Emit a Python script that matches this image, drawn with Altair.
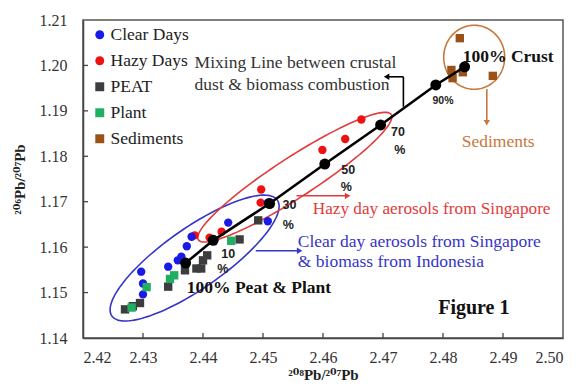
import altair as alt
import pandas as pd
import numpy as np

# ---------------- data ----------------
clear_x = [2.4297, 2.4300, 2.4300, 2.4342, 2.4358, 2.4364, 2.4373, 2.4381, 2.4442, 2.4508, 2.4508]
clear_y = [1.1546, 1.1520, 1.1496, 1.1557, 1.1571, 1.1579, 1.1602, 1.1623, 1.1654, 1.1657, 1.1698]
hazy_x = [2.4386, 2.4411, 2.4431, 2.4496, 2.4497, 2.4599, 2.4637, 2.4664]
hazy_y = [1.1626, 1.1621, 1.1634, 1.1698, 1.1727, 1.1814, 1.1838, 1.1881]
peat_x = [2.4270, 2.4283, 2.4295, 2.4342, 2.4370, 2.4389, 2.4397, 2.4400, 2.4407, 2.4461, 2.4492]
peat_y = [1.1463, 1.1470, 1.1477, 1.1513, 1.1549, 1.1553, 1.1553, 1.1571, 1.1582, 1.1617, 1.1659]
plant_x = [2.4281, 2.4306, 2.4345, 2.4352, 2.4447]
plant_y = [1.1467, 1.1512, 1.1530, 1.1538, 1.1614]
sed_x = [2.4828, 2.4814, 2.4816, 2.4833, 2.4883]
sed_y = [1.2060, 1.1990, 1.1972, 1.1985, 1.1977]
mix_x = [2.4371, 2.4417, 2.4511, 2.4603, 2.4696, 2.4788, 2.4836]
mix_y = [1.1565, 1.1615, 1.1696, 1.1783, 1.1869, 1.1957, 1.1997]

series_names = ["Clear Days", "Hazy Days", "PEAT", "Plant", "Sediments"]
series_colors = ["#1a1ae6", "#ee1111", "#3d3d3d", "#1fae62", "#9a5218"]
series_shapes = ["circle", "circle", "square", "square", "square"]

x_ticks = [2.42, 2.43, 2.44, 2.45, 2.46, 2.47, 2.48, 2.49, 2.50]
y_ticks = [1.14, 1.15, 1.16, 1.17, 1.18, 1.19, 1.20, 1.21]

SERIF = "'Liberation Serif', 'Times New Roman', Times, 'DejaVu Serif', serif"
SANS = "'Liberation Sans', Arial, sans-serif"

W, H = 480, 318
XD = [2.42, 2.50]
YD = [1.14, 1.21]
SX = W / (XD[1] - XD[0])
SY = H / (YD[1] - YD[0])

xs = alt.Scale(domain=XD, nice=False, zero=False)
ys = alt.Scale(domain=YD, nice=False, zero=False)

# ---------------- scatter ----------------
rows = []
for name, xx, yy in [("Hazy Days", hazy_x, hazy_y), ("Clear Days", clear_x, clear_y),
                     ("PEAT", peat_x, peat_y), ("Plant", plant_x, plant_y),
                     ("Sediments", sed_x, sed_y)]:
    for a, b in zip(xx, yy):
        rows.append({"series": name, "x": a, "y": b})
scat_df = pd.DataFrame(rows)

scatter = alt.Chart(scat_df).mark_point(filled=True, opacity=1, size=70).encode(
    x=alt.X("x:Q", scale=xs, axis=alt.Axis(values=x_ticks, format=".2f",
                                           title="²⁰⁸Pb/²⁰⁷Pb", labelPadding=11,
                                           titlePadding=2)),
    y=alt.Y("y:Q", scale=ys, axis=alt.Axis(values=y_ticks, format=".2f",
                                           title="²⁰⁶Pb/²⁰⁷Pb", labelPadding=16,
                                           titlePadding=12)),
    color=alt.Color("series:N", scale=alt.Scale(domain=series_names, range=series_colors),
                    legend=alt.Legend(title=None, orient="none", legendX=8, legendY=6,
                                      labelFont=SERIF, labelFontSize=17.5,
                                      labelColor="#222", symbolSize=80, rowPadding=7,
                                      labelOffset=2, symbolStrokeWidth=0)),
    shape=alt.Shape("series:N", scale=alt.Scale(domain=series_names, range=series_shapes),
                    legend=None),
)

# ---------------- ellipses ----------------
def ellipse(cx, cy, a, b, ang):
    t = np.linspace(0, 2 * np.pi, 145)
    th = np.radians(ang)
    px = a * np.cos(t) * np.cos(th) - b * np.sin(t) * np.sin(th)
    py = a * np.cos(t) * np.sin(th) + b * np.sin(t) * np.cos(th)
    return pd.DataFrame({"x": cx + px / SX, "y": cy + py / SY, "o": np.arange(len(t))})

def ell_layer(df, color):
    return alt.Chart(df).mark_line(color=color, strokeWidth=1.6).encode(
        x=alt.X("x:Q", scale=xs), y=alt.Y("y:Q", scale=ys), order="o:Q")

blue_ell = ell_layer(ellipse(2.4386, 1.1576, 101, 30, 35), "#3535c8")
red_ell = ell_layer(ellipse(2.4553, 1.1754, 115, 20, 33), "#e23a3a")
orange_ell = ell_layer(ellipse(2.4852, 1.2018, 30.5, 32, 0), "#c8773a")

# ---------------- mixing line ----------------
mix_df = pd.DataFrame({"x": mix_x, "y": mix_y, "o": range(len(mix_x))})
mix_line = alt.Chart(mix_df).mark_line(color="black", strokeWidth=2.6).encode(
    x=alt.X("x:Q", scale=xs), y=alt.Y("y:Q", scale=ys), order="o:Q")
mix_pts = alt.Chart(mix_df).mark_circle(color="black", size=120, opacity=1).encode(
    x=alt.X("x:Q", scale=xs), y=alt.Y("y:Q", scale=ys))

# ---------------- arrows ----------------
seg_x = [2.4873, 2.4734, 2.4708, 2.4556, 2.4488]
seg_x2 = [2.4873, 2.4734, 2.4734, 2.4638, 2.4558]
seg_y = [1.1948, 1.1975, 1.1975, 1.1713, 1.1592]
seg_y2 = [1.1878, 1.1909, 1.1975, 1.1713, 1.1592]
seg_col = ["#c8773a", "black", "black", "#e23a3a", "#3535c8"]
seg_df = pd.DataFrame({"x": seg_x, "x2": seg_x2, "y": seg_y, "y2": seg_y2, "c": seg_col})
segs = alt.Chart(seg_df).mark_rule(strokeWidth=1.6).encode(
    x=alt.X("x:Q", scale=xs), x2="x2:Q", y=alt.Y("y:Q", scale=ys), y2="y2:Q",
    color=alt.Color("c:N", scale=None))

head_x = [2.4873, 2.4706, 2.4641, 2.4561]
head_y = [1.1874, 1.1975, 1.1713, 1.1592]
head_shape = ["triangle-down", "triangle-left", "triangle-right", "triangle-right"]
head_df = pd.DataFrame({"x": head_x, "y": head_y, "s": head_shape, "c": seg_col[0:2] + seg_col[3:]})
heads = alt.Chart(head_df).mark_point(filled=True, opacity=1, size=40).encode(
    x=alt.X("x:Q", scale=xs), y=alt.Y("y:Q", scale=ys),
    shape=alt.Shape("s:N", scale=None), color=alt.Color("c:N", scale=None))

# ---------------- axis ticks (inward) ----------------
xt_df = pd.DataFrame({"x": x_ticks[1:-1], "y": YD[0], "y2": YD[0] + 5 / SY})
yt_df = pd.DataFrame({"y": y_ticks[1:-1], "x": XD[0], "x2": XD[0] + 5 / SX})
xt = alt.Chart(xt_df).mark_rule(color="#444", strokeWidth=1.3).encode(
    x=alt.X("x:Q", scale=xs), y=alt.Y("y:Q", scale=ys), y2="y2:Q")
yt = alt.Chart(yt_df).mark_rule(color="#444", strokeWidth=1.3).encode(
    x=alt.X("x:Q", scale=xs), x2="x2:Q", y=alt.Y("y:Q", scale=ys))

# ---------------- text ----------------
def text_layer(labels, tx, ty, color, size, weight="normal", font=SERIF, align="left"):
    df = pd.DataFrame({"t": labels, "x": tx, "y": ty})
    return alt.Chart(df).mark_text(color=color, fontSize=size, fontWeight=weight, font=font,
                                   align=align, baseline="middle").encode(
        x=alt.X("x:Q", scale=xs), y=alt.Y("y:Q", scale=ys), text="t:N")

mix_text = text_layer(["Mixing Line between crustal", "dust  & biomass combustion"],
                      [2.4386, 2.4386], [1.2005, 1.1957], "#333", 17.5)
bold_text = text_layer(["100% Crust", "100% Peat & Plant"],
                       [2.4833, 2.4373], [1.2019, 1.1511], "#111", 17.5, "bold")
fig_text = text_layer(["Figure 1"], [2.4792], [1.1465], "#111", 20, "bold")
sed_text = text_layer(["Sediments"], [2.4892], [1.1832], "#c8773a", 17.5, align="center")
hazy_text = text_layer(["Hazy day aerosols from Singapore"], [2.4583], [1.1685], "#e23a3a", 17.2)
clear_text = text_layer(["Clear day aerosols from Singapore", "& biomass from Indonesia"],
                        [2.4558, 2.4558], [1.1612, 1.1568], "#3535c8", 17.5)
pct_text = text_layer(["70", "%", "50", "%", "30", "%", "10", "%"],
                      [2.4725, 2.4728, 2.4642, 2.4639, 2.4544, 2.4542, 2.4442, 2.4433],
                      [1.1854, 1.1814, 1.1770, 1.1733, 1.1693, 1.1648, 1.1586, 1.1551],
                      "#222", 12.5, "bold", SANS, "center")
pct90 = text_layer(["90%"], [2.4800], [1.1922], "#222", 10.5, "bold", SANS, "center")

chart = alt.layer(
    blue_ell, red_ell, orange_ell, scatter, segs, heads, mix_line, mix_pts,
    xt, yt, mix_text, bold_text, fig_text, sed_text, hazy_text, clear_text, pct_text, pct90
).properties(
    width=W, height=H,
    autosize=alt.AutoSizeParams(type="none"),
    padding={"left": 75, "top": 12, "right": 11, "bottom": 45},
).configure_view(
    stroke="#555", strokeWidth=1.5
).configure_axis(
    grid=False, ticks=False, domainColor="#444", domainWidth=1.5,
    labelFont=SERIF, labelFontSize=16, labelColor="#333",
    titleFont=SERIF, titleFontSize=15, titleFontWeight="bold", titleColor="#222"
)

chart.save("out.html", embed_options={"renderer": "svg", "actions": False})
